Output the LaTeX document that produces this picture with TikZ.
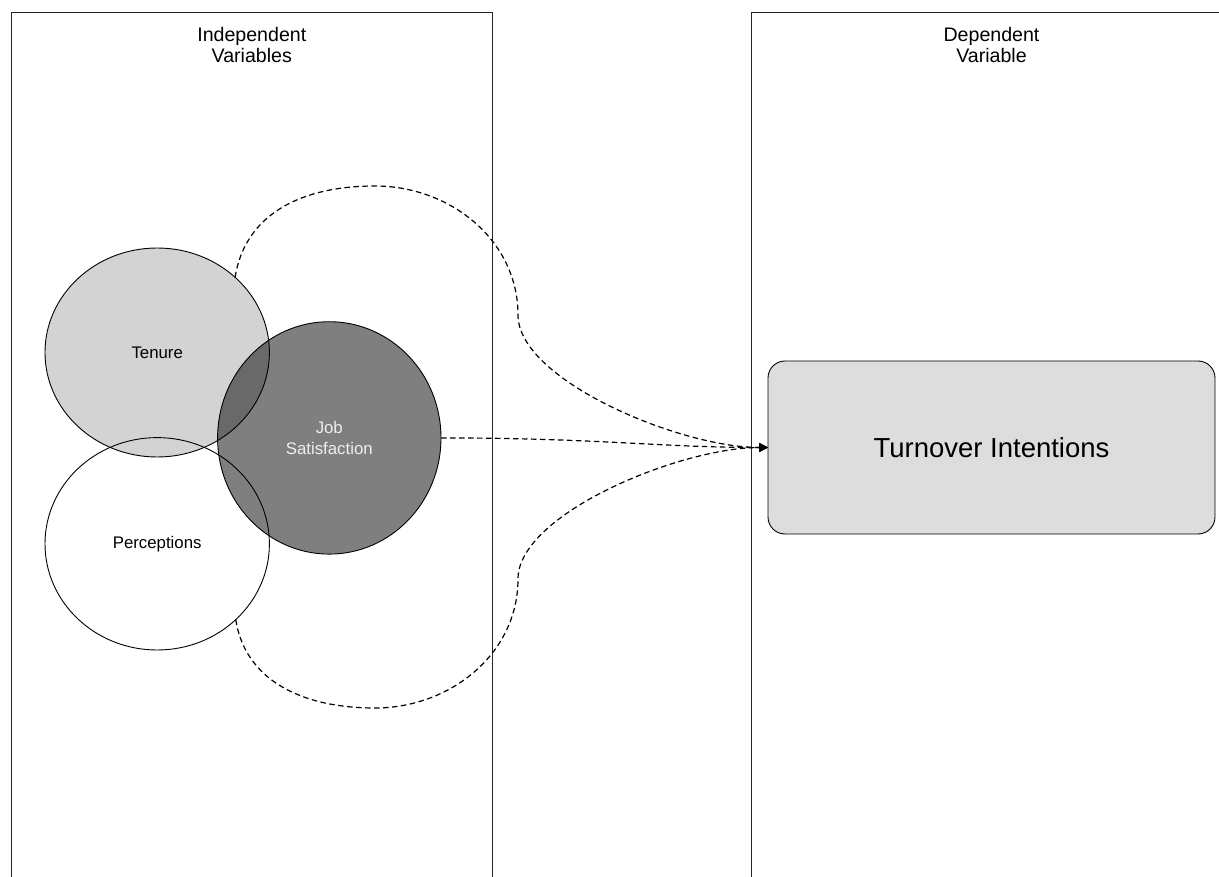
\documentclass[tikz,border=0pt]{standalone}
\usepackage{fontspec}
\setmainfont{Liberation Sans}
\usetikzlibrary{shapes.geometric,arrows.meta}
\definecolor{tenfill}{RGB}{211,211,211}
\definecolor{boxfill}{RGB}{221,221,221}
\definecolor{jobtext}{RGB}{238,238,238}
\begin{document}
\begin{tikzpicture}[x=1pt,y=-1pt,
  lane/.style={draw=black!85, line width=1pt},
  hdr/.style={align=center, inner sep=0pt, font=\fontsize{19.6}{21.5}\selectfont},
  blob/.style={ellipse, draw=black, line width=0.9pt, inner sep=0pt, outer sep=0pt,
    align=center, font=\fontsize{16.8}{21}\selectfont},
  target/.style={draw=black, line width=0.9pt, rounded corners=17pt, fill=boxfill,
    inner sep=0pt, outer sep=0pt, minimum width=447pt, minimum height=173pt,
    font=\fontsize{27.5}{33}\selectfont},
  link/.style={draw=black, dash pattern=on 5.5pt off 3.5pt, line width=1.2pt,
    -{Triangle[length=9pt,width=9pt]}}
]
\useasboundingbox (0,0) rectangle (1219,877);

% swimlanes
\draw[lane] (11,877) -- (11,12.5) -- (492.7,12.5) -- (492.7,877);
\draw[lane] (751,877) -- (751,12.5) -- (1219,12.5);

% headers
\node[hdr] (hind) at (251.8,45) {Independent\\Variables};
\node[hdr] (hdep) at (991.5,45) {Dependent\\Variable};

% variables
\node[blob, fill=tenfill, minimum width=224.4pt, minimum height=209pt] (ten) at (157.2,352.5) {Tenure};
\node[blob, minimum width=224.4pt, minimum height=212.4pt] (per) at (157.2,543.8) {Perceptions};
\node[blob, fill=black, fill opacity=0.5, text opacity=1, text=jobtext,
  minimum width=223.4pt, minimum height=232.4pt] (job) at (329.3,437.9) {Job\\Satisfaction};

% dependent variable
\node[target] (turn) at (991.5,447.5) {Turnover Intentions};

% connectors
\draw[link] (ten.44) .. controls (245,215) and (300,186) .. (375,186)
  .. controls (450,186) and (518,240) .. (518,315)
  .. controls (518,380) and (680,447.5) .. (turn.west);
\draw[link] (job.east) .. controls (600,438) and (660,447.5) .. (turn.west);
\draw[link] (per.-44) .. controls (245,679) and (300,708) .. (375,708)
  .. controls (450,708) and (518,654) .. (518,579)
  .. controls (518,514) and (680,447.5) .. (turn.west);
\end{tikzpicture}
\end{document}
